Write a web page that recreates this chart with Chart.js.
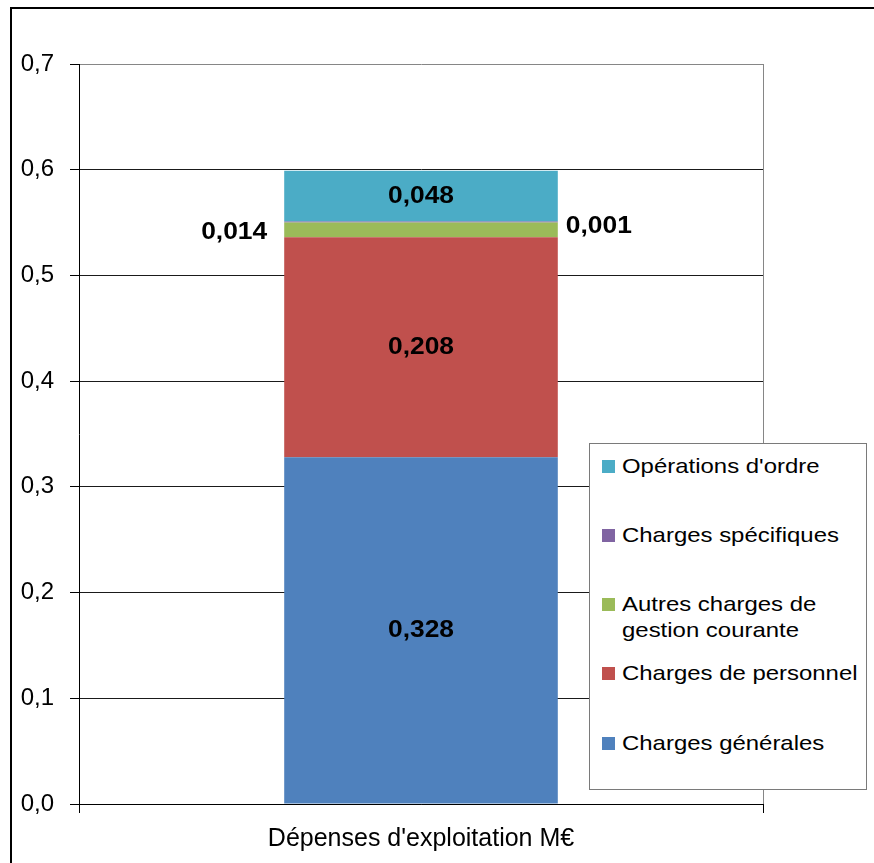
<!DOCTYPE html>
<html lang="fr">
<head>
<meta charset="utf-8">
<title>Dépenses d'exploitation</title>
<script src="https://cdn.jsdelivr.net/npm/chart.js@4.4.1/dist/chart.umd.min.js"></script>
<style>
    html, body { margin: 0; padding: 0; background: #fff; overflow: hidden; }
    #wrap { position: relative; width: 874px; height: 863px; overflow: hidden; }
    #frame {
        position: absolute; left: 10px; top: 7px; width: 900px; height: 900px;
        border: 2px solid #000; pointer-events: none;
    }
    #legend {
        position: absolute; left: 589px; top: 443px; width: 276px; height: 345px;
        border: 1px solid #7a7a7a; background: #fff;
        font-family: "Liberation Sans", Arial, sans-serif; font-size: 21px; color: #000;
    }
    .item { position: absolute; left: 12px; }
    .swatch { position: absolute; left: 0; top: 0; width: 13px; height: 13px; }
    .txt {
        position: absolute; left: 20px; top: -7px; width: 212px; line-height: 26px;
        transform: scaleX(1.14); transform-origin: left top;
    }
</style>
</head>
<body>
<div id="wrap">
    <canvas id="chart" width="874" height="863"></canvas>
    <div id="legend"></div>
    <div id="frame"></div>
</div>
<script>
// --- DATA ---
const categories = ["Dépenses d'exploitation M€"];
const seriesNames = [
    "Charges générales",
    "Charges de personnel",
    "Autres charges de gestion courante",
    "Charges spécifiques",
    "Opérations d'ordre"
];
const chargesGenerales = [0.328];
const chargesPersonnel = [0.208];
const autresCharges = [0.014];
const chargesSpecifiques = [0.001];
const operationsOrdre = [0.048];
const yTicks = [0, 0.1, 0.2, 0.3, 0.4, 0.5, 0.6, 0.7];

const seriesValues = [chargesGenerales, chargesPersonnel, autresCharges, chargesSpecifiques, operationsOrdre];
const seriesColors = ['#4F81BD', '#C0504D', '#9BBB59', '#8064A2', '#4BACC6'];
// where each value label goes (small segments get their label beside the bar)
const labelPlacement = ['center', 'center', 'left', 'right', 'center'];

const FONT = '"Liberation Sans", Arial, sans-serif';

function fmt(v, d) {
    return v.toFixed(d).replace('.', ',');
}

// --- value labels (slightly widened like the original) ---
const valueLabels = {
    id: 'valueLabels',
    afterDatasetsDraw(chart) {
        const ctx = chart.ctx;
        const sx = 1.1;
        chart.data.datasets.forEach((ds, i) => {
            const meta = chart.getDatasetMeta(i);
            meta.data.forEach((bar, j) => {
                const p = bar.getProps(['x', 'y', 'base', 'width'], true);
                const mid = (p.y + p.base) / 2;
                const txt = fmt(ds.data[j], 3);
                let x = p.x, y = mid, align = 'center';
                if (labelPlacement[i] === 'left') {
                    x = p.x - p.width / 2 - 17; y = mid + 2; align = 'right';
                } else if (labelPlacement[i] === 'right') {
                    x = p.x + p.width / 2 + 8; y = mid + 4; align = 'left';
                }
                ctx.save();
                ctx.translate(x, y);
                ctx.scale(sx, 1);
                ctx.font = 'bold 24px ' + FONT;
                ctx.fillStyle = '#000';
                ctx.textBaseline = 'middle';
                ctx.textAlign = align;
                ctx.fillText(txt, 0, 0);
                ctx.restore();
            });
        });
    }
};

// --- right side of the plot box ---
const plotBox = {
    id: 'plotBox',
    afterDraw(chart) {
        const a = chart.chartArea;
        const ctx = chart.ctx;
        ctx.save();
        ctx.strokeStyle = '#868686';
        ctx.lineWidth = 1;
        ctx.beginPath();
        ctx.moveTo(Math.round(a.right) + 0.5, a.top);
        ctx.lineTo(Math.round(a.right) + 0.5, a.bottom);
        ctx.stroke();
        ctx.restore();
    }
};

const datasets = seriesNames.map((name, i) => ({
    label: name,
    data: seriesValues[i],
    backgroundColor: seriesColors[i],
    borderWidth: 0,
    barPercentage: 0.4,
    categoryPercentage: 1.0
}));

new Chart(document.getElementById('chart').getContext('2d'), {
    type: 'bar',
    data: { labels: categories, datasets: datasets },
    plugins: [valueLabels, plotBox],
    options: {
        responsive: false,
        animation: false,
        layout: { padding: { top: 64, right: 111, bottom: 0, left: 0 } },
        plugins: {
            legend: { display: false },
            tooltip: { enabled: false }
        },
        scales: {
            x: {
                stacked: true,
                afterFit(scale) { scale.height = 59; },
                grid: {
                    display: true,
                    drawOnChartArea: false,
                    drawTicks: true,
                    tickLength: 9,
                    color: '#000'
                },
                border: { display: true, color: '#000', width: 1 },
                ticks: {
                    padding: 11,
                    color: '#000',
                    font: { family: FONT, size: 25 }
                }
            },
            y: {
                stacked: true,
                min: yTicks[0],
                max: yTicks[yTicks.length - 1],
                afterFit(scale) { scale.width = 79; },
                afterBuildTicks(scale) {
                    scale.ticks = yTicks.map(v => ({ value: v }));
                },
                grid: {
                    color: c => (Math.abs(c.tick.value - 0.7) < 1e-9 ? '#868686' : '#1a1a1a'),
                    tickColor: '#000',
                    tickLength: 9,
                    lineWidth: 1
                },
                border: { display: true, color: '#000', width: 1 },
                ticks: {
                    padding: 16,
                    color: '#000',
                    font: { family: FONT, size: 24 },
                    callback: v => fmt(v, 1)
                }
            }
        }
    }
});

// --- LEGEND (reversed, in its own box over the plot) ---
const legendBox = document.getElementById('legend');
const firstRow = 22;   // centre of the first row inside the box
const rowStep = 69.3;
seriesNames.slice().reverse().forEach((name, k) => {
    const i = seriesNames.length - 1 - k;
    const item = document.createElement('div');
    item.className = 'item';
    item.style.top = (firstRow + k * rowStep - 6.5) + 'px';
    item.innerHTML = `<span class="swatch" style="background:${seriesColors[i]}"></span>
                      <span class="txt">${name}</span>`;
    legendBox.appendChild(item);
});
</script>
</body>
</html>
